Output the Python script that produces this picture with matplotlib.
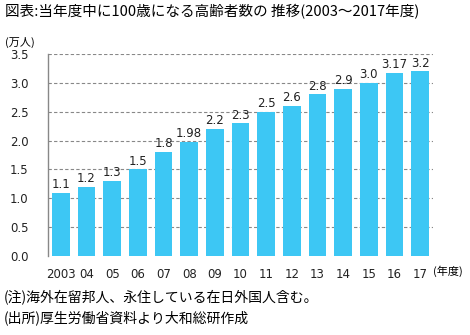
import matplotlib.pyplot as plt

years = ["2003", "04", "05", "06", "07", "08", "09", "10", "11", "12", "13", "14", "15", "16", "17"]
values = [1.1, 1.2, 1.3, 1.5, 1.8, 1.98, 2.2, 2.3, 2.5, 2.6, 2.8, 2.9, 3.0, 3.17, 3.2]
labels = ["1.1", "1.2", "1.3", "1.5", "1.8", "1.98", "2.2", "2.3", "2.5", "2.6", "2.8", "2.9", "3.0", "3.17", "3.2"]
yticks = [0.0, 0.5, 1.0, 1.5, 2.0, 2.5, 3.0, 3.5]

jp = ["Noto Sans CJK JP", "DejaVu Sans"]
bar_color = "#3DC7F4"

fig = plt.figure(figsize=(4.7, 3.35), dpi=100)
ax = fig.add_axes([48 / 470, 1 - 256 / 335, 385 / 470, 202 / 335])

x = range(len(values))
ax.bar(x, values, width=0.7, color=bar_color, zorder=2)
for i, (v, s) in enumerate(zip(values, labels)):
    ax.text(i, v + 0.03, s, ha="center", va="bottom", fontsize=8.5,
            family="DejaVu Sans", color="#222222")

ax.set_xlim(-0.5, len(values) - 0.5)
ax.set_ylim(0, 3.5)
ax.set_yticks(yticks)
ax.set_yticklabels([f"{t:.1f}" for t in yticks], fontsize=8.5, color="#222222")
ax.set_xticks(list(x))
ax.set_xticklabels(years, fontsize=8.5, color="#222222")
ax.tick_params(axis="both", length=0, pad=14)
ax.tick_params(axis="x", pad=9)

for t in yticks[1:]:
    ax.axhline(t, color="#888888", linestyle=(0, (3, 2)), linewidth=0.8, zorder=1)

for side in ["top", "right", "bottom"]:
    ax.spines[side].set_visible(False)
ax.spines["left"].set_color("#888888")
ax.spines["left"].set_linewidth(1.0)

fig.text(5 / 470, 1 - 12 / 335, "図表:当年度中に100歳になる高齢者数の 推移(2003～2017年度)",
         family=jp, fontsize=10.5, va="center", ha="left")
fig.text(5 / 470, 1 - 42 / 335, "(万人)", family=jp, fontsize=8, va="center", ha="left")
fig.text(433 / 470, 1 - 271 / 335, "(年度)", family=jp, fontsize=8, va="center", ha="left")
fig.text(4 / 470, 1 - 297 / 335, "(注)海外在留邦人、永住している在日外国人含む。",
         family=jp, fontsize=10, va="center", ha="left")
fig.text(4 / 470, 1 - 318 / 335, "(出所)厚生労働省資料より大和総研作成",
         family=jp, fontsize=10, va="center", ha="left")

fig.savefig("out.png", dpi=100)
